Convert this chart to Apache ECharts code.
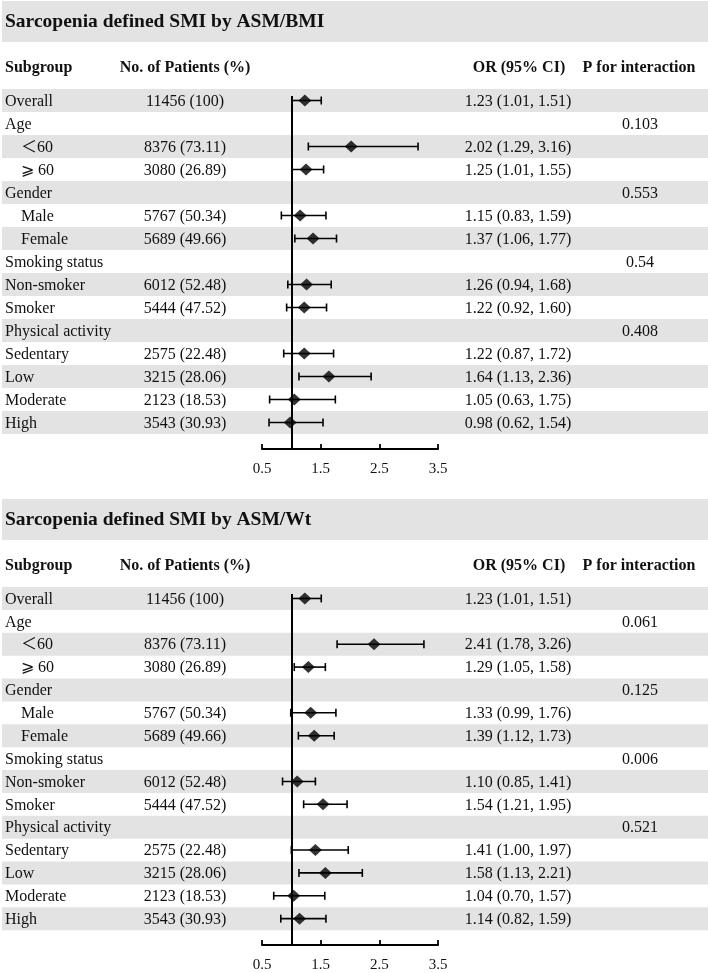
<!DOCTYPE html>
<html><head><meta charset="utf-8">
<script src="https://cdn.jsdelivr.net/npm/echarts@6/dist/echarts.min.js"></script>
<style>html,body{margin:0;padding:0;background:#fff}#chart{width:708px;height:973px}</style>
</head><body><div id="chart"></div>
<script>
// ---------- data ----------
const panelTitles = ["Sarcopenia defined SMI by ASM/BMI", "Sarcopenia defined SMI by ASM/Wt"];
const headers = ["Subgroup", "No. of Patients (%)", "OR (95% CI)", "P for interaction"];
const subgroups = ["Overall", "Age", "\uFF1C60", "\u2A7E 60", "Gender", "Male", "Female",
  "Smoking status", "Non-smoker", "Smoker", "Physical activity", "Sedentary", "Low", "Moderate", "High"];
const indentedRows = ["\uFF1C60", "\u2A7E 60", "Male", "Female"];
const patientCounts = [11456, null, 8376, 3080, null, 5767, 5689, null, 6012, 5444, null, 2575, 3215, 2123, 3543];
const patientPct = ["100", null, "73.11", "26.89", null, "50.34", "49.66", null, "52.48", "47.52", null, "22.48", "28.06", "18.53", "30.93"];

const orBMI = [1.23, null, 2.02, 1.25, null, 1.15, 1.37, null, 1.26, 1.22, null, 1.22, 1.64, 1.05, 0.98];
const loBMI = [1.01, null, 1.29, 1.01, null, 0.83, 1.06, null, 0.94, 0.92, null, 0.87, 1.13, 0.63, 0.62];
const hiBMI = [1.51, null, 3.16, 1.55, null, 1.59, 1.77, null, 1.68, 1.60, null, 1.72, 2.36, 1.75, 1.54];
const pBMI  = [null, "0.103", null, null, "0.553", null, null, "0.54", null, null, "0.408", null, null, null, null];

const orWt = [1.23, null, 2.41, 1.29, null, 1.33, 1.39, null, 1.10, 1.54, null, 1.41, 1.58, 1.04, 1.14];
const loWt = [1.01, null, 1.78, 1.05, null, 0.99, 1.12, null, 0.85, 1.21, null, 1.00, 1.13, 0.70, 0.82];
const hiWt = [1.51, null, 3.26, 1.58, null, 1.76, 1.73, null, 1.41, 1.95, null, 1.97, 2.21, 1.57, 1.59];
const pWt  = [null, "0.061", null, null, "0.125", null, null, "0.006", null, null, "0.521", null, null, null, null];

const xTicks = [0.5, 1.5, 2.5, 3.5];
const nullOR = 1;

// ---------- layout ----------
const PANEL_OFF = 498, ROW0_TOP = 89, ROW_H = 23, REF_TOP = 96, AXIS_Y = 449;
const GRID_L = 262, GRID_W = 176;
const BAND = '#e3e3e3', INK = '#111';
const FONT = '"Liberation Serif", "Noto Sans CJK SC", serif';
const COL_N = 185, COL_OR = 518, COL_P = 640;

const panels = [
  {or: orBMI, lo: loBMI, hi: hiBMI, p: pBMI},
  {or: orWt, lo: loWt, hi: hiWt, p: pWt}
];

function txt(text, x, y, align, weight) {
  return {type: 'text', style: {text: text, x: x, y: y, fill: INK, align: align, verticalAlign: 'middle',
    font: (weight || 'normal') + ' 16px ' + FONT}};
}

function tableRenderer(P) {
  return function (params, api) {
    const i = api.value(1);
    const yc = api.coord([api.value(0), i])[1];
    const ch = [];
    if (i % 2 === 0) ch.push({type: 'rect', shape: {x: 2, y: yc - ROW_H / 2, width: 706, height: ROW_H}, style: {fill: BAND}});
    const lab = subgroups[i];
    ch.push(txt(lab, indentedRows.indexOf(lab) >= 0 ? 21 : 5, yc + 1, 'left'));
    if (patientCounts[i] != null) ch.push(txt(patientCounts[i] + ' (' + patientPct[i] + ')', COL_N, yc + 1, 'center'));
    if (P.or[i] != null) ch.push(txt(P.or[i].toFixed(2) + ' (' + P.lo[i].toFixed(2) + ', ' + P.hi[i].toFixed(2) + ')', COL_OR, yc + 1, 'center'));
    if (P.p[i] != null) ch.push(txt(P.p[i], COL_P, yc + 1, 'center'));
    return {type: 'group', children: ch};
  };
}

function whiskerRender(params, api) {
  const a = api.coord([api.value(0), api.value(2)]);
  const b = api.coord([api.value(1), api.value(2)]);
  const c = 4, st = {stroke: '#000', lineWidth: 1.6};
  return {type: 'group', children: [
    {type: 'line', shape: {x1: a[0], y1: a[1], x2: b[0], y2: b[1]}, style: st},
    {type: 'line', shape: {x1: a[0], y1: a[1] - c, x2: a[0], y2: a[1] + c}, style: st},
    {type: 'line', shape: {x1: b[0], y1: b[1] - c, x2: b[0], y2: b[1] + c}, style: st}
  ]};
}

const grids = [], xAxes = [], yAxes = [], series = [], graphics = [];
const rowC = ROW0_TOP + ROW_H / 2;
panels.forEach(function (P, k) {
  const off = k * PANEL_OFF;
  grids.push({left: GRID_L, width: GRID_W, top: REF_TOP + off, height: AXIS_Y - REF_TOP});
  xAxes.push({type: 'value', gridIndex: k, min: xTicks[0], max: xTicks[xTicks.length - 1], interval: 1,
    axisLine: {onZero: false, lineStyle: {color: '#000', width: 2}},
    axisTick: {inside: true, length: 5, lineStyle: {color: '#000', width: 1.8}},
    axisLabel: {color: INK, fontFamily: FONT, fontSize: 15, margin: 13},
    splitLine: {show: false}});
  yAxes.push({type: 'value', gridIndex: k, inverse: true, show: false,
    min: -(rowC - REF_TOP) / ROW_H, max: (AXIS_Y - rowC) / ROW_H});
  series.push({type: 'custom', xAxisIndex: k, yAxisIndex: k, z: 1, silent: true, clip: false,
    renderItem: tableRenderer(P), encode: {x: 0, y: 1},
    data: subgroups.map(function (s, i) { return [xTicks[0], i]; })});
  const wd = [], sd = [];
  P.or.forEach(function (v, i) { if (v != null) { wd.push([P.lo[i], P.hi[i], i]); sd.push([v, i]); } });
  series.push({type: 'custom', xAxisIndex: k, yAxisIndex: k, z: 3, silent: true, clip: false,
    renderItem: whiskerRender, encode: {x: [0, 1], y: 2}, data: wd});
  series.push({type: 'scatter', xAxisIndex: k, yAxisIndex: k, z: 5, silent: true,
    symbol: 'diamond', symbolSize: [13, 12], itemStyle: {color: '#000'}, data: sd,
    markLine: {silent: true, symbol: 'none', label: {show: false}, animation: false,
      lineStyle: {color: '#000', width: 2, type: 'solid'}, data: [{xAxis: nullOR}]}});
  graphics.push({type: 'rect', shape: {x: 2, y: 1 + off, width: 706, height: 41}, style: {fill: BAND}, z: -1});
  graphics.push({type: 'text', style: {text: panelTitles[k], x: 5, y: 22 + off, fill: INK, verticalAlign: 'middle',
    font: 'bold 19.5px ' + FONT}});
  graphics.push({type: 'text', style: {text: headers[0], x: 5, y: 68 + off, fill: INK, verticalAlign: 'middle', font: 'bold 16px ' + FONT}});
  graphics.push({type: 'text', style: {text: headers[1], x: COL_N, y: 68 + off, fill: INK, align: 'center', verticalAlign: 'middle', font: 'bold 16px ' + FONT}});
  graphics.push({type: 'text', style: {text: headers[2], x: COL_OR + 1, y: 68 + off, fill: INK, align: 'center', verticalAlign: 'middle', font: 'bold 16px ' + FONT}});
  graphics.push({type: 'text', style: {text: headers[3], x: COL_P - 1, y: 68 + off, fill: INK, align: 'center', verticalAlign: 'middle', font: 'bold 16px ' + FONT}});
});

const chart = echarts.init(document.getElementById('chart'), null, {renderer: 'canvas'});
chart.setOption({
  animation: false,
  backgroundColor: '#fff',
  grid: grids, xAxis: xAxes, yAxis: yAxes, series: series,
  graphic: graphics
});
</script></body></html>
